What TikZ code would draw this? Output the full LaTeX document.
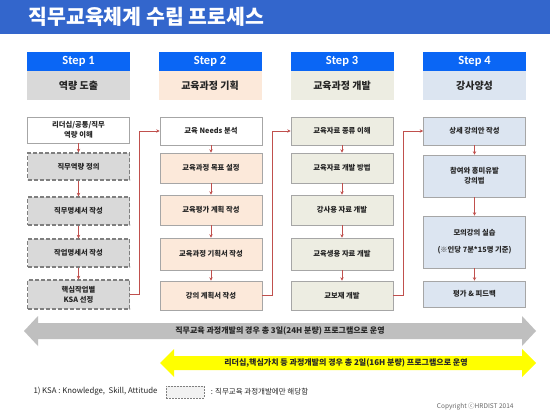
\documentclass[tikz,border=0pt]{standalone}
\usepackage{fontspec}
\setmainfont{Noto Sans CJK KR}
\newfontfamily\stepfont{Carlito}
\usetikzlibrary{arrows.meta,positioning}
\definecolor{titleblue}{HTML}{3366CC}
\definecolor{stepblue}{HTML}{0A66F5}
\definecolor{jobgray}{HTML}{D9D9D9}
\definecolor{planpeach}{HTML}{FCE9DA}
\definecolor{devolive}{HTML}{EDEDE2}
\definecolor{tutorblue}{HTML}{DCE5F1}
\definecolor{boxline}{HTML}{A6A6A6}
\definecolor{dashline}{HTML}{7F7F7F}
\definecolor{linkred}{HTML}{C0504D}
\definecolor{textdark}{HTML}{262626}
\definecolor{bandgray}{HTML}{BFBFBF}
\definecolor{bandyellow}{HTML}{FFFF00}
\tikzset{
  steptag/.style={fill=stepblue, text=white, inner sep=0pt,
    minimum width=103pt, minimum height=19pt,
    font=\stepfont\bfseries\fontsize{12.5}{13}\selectfont},
  stepname/.style={inner sep=0pt, minimum width=103pt, minimum height=29pt,
    text=textdark, font=\bfseries\fontsize{10}{12}\selectfont},
  taskbox/.style={draw=boxline, line width=0.6pt, inner sep=0pt,
    minimum width=102pt, align=center, text=textdark,
    font=\bfseries\fontsize{7.3}{10}\selectfont},
  jobbox/.style={taskbox, fill=jobgray, draw=dashline, line width=1.3pt,
    dash pattern=on 4pt off 2pt},
  flowarrow/.style={draw=linkred, line width=0.6pt,
    -{Stealth[length=3.5pt,width=3.5pt]}},
  bandtext/.style={text=textdark, font=\bfseries\fontsize{8}{9}\selectfont},
  notetext/.style={anchor=west, text=textdark, font=\fontsize{7.8}{8}\selectfont}
}
\begin{document}
\begin{tikzpicture}[x=1pt,y=-1pt]
    \useasboundingbox (0,0) rectangle (550,412);
    \fill[white] (0,0) rectangle (550,412);
    %% Title bar
    \fill[titleblue] (0,0) rectangle (550,34);
    \node[anchor=west, text=white, font=\bfseries\fontsize{20.5}{21}\selectfont]
        (title) at (25,17) {직무교육체계 수립 프로세스};
    %% Step headers
    \node[steptag] (s1) at (78.5,61.5) {Step 1};
    \node[steptag] (s2) at (210,61.5) {Step 2};
    \node[steptag] (s3) at (342,61.5) {Step 3};
    \node[steptag] (s4) at (474.5,61.5) {Step 4};
    \node[stepname, fill=jobgray, below=0pt of s1] (n1) {역량 도출};
    \node[stepname, fill=planpeach, below=0pt of s2] (n2) {교육과정 기획};
    \node[stepname, fill=devolive, below=0pt of s3] (n3) {교육과정 개발};
    \node[stepname, fill=tutorblue, below=0pt of s4] (n4) {강사양성};
    %% Step 1 : competency
    \node[taskbox, fill=white, minimum height=26pt] (c1a) at (78.5,130)
        {리더십/공통/직무\\역량 이해};
    \node[jobbox, minimum height=27pt] (c1b) at (78.5,166.5) {직무역량 정의};
    \node[jobbox, minimum height=28pt] (c1c) at (78.5,211) {직무명세서 작성};
    \node[jobbox, minimum height=28pt] (c1d) at (78.5,253) {작업명세서 작성};
    \node[jobbox, minimum height=29pt] (c1e) at (78.5,294.5)
        {핵심작업별\\KSA 선정};
    %% Step 2 : planning
    \node[taskbox, fill=white, minimum height=28pt] (c2a) at (211,131)
        {교육 Needs 분석};
    \node[taskbox, fill=planpeach, minimum height=30pt] (c2b) at (211,168)
        {교육과정 목표 설정};
    \node[taskbox, fill=planpeach, minimum height=30pt] (c2c) at (211,210)
        {교육평가 계획 작성};
    \node[taskbox, fill=planpeach, minimum height=32pt] (c2d) at (211,254)
        {교육과정 기획서 작성};
    \node[taskbox, fill=planpeach, minimum height=29pt] (c2e) at (211,295.5)
        {강의 계획서 작성};
    %% Step 3 : development
    \node[taskbox, fill=devolive, minimum height=28pt] (c3a) at (342,131)
        {교육자료 종류 이해};
    \node[taskbox, fill=devolive, minimum height=30pt] (c3b) at (342,168)
        {교육자료 개발 방법};
    \node[taskbox, fill=devolive, minimum height=30pt] (c3c) at (342,210)
        {강사용 자료 개발};
    \node[taskbox, fill=devolive, minimum height=32pt] (c3d) at (342,254)
        {교육생용 자료 개발};
    \node[taskbox, fill=devolive, minimum height=29pt] (c3e) at (342,295.5)
        {교보재 개발};
    %% Step 4 : instructors
    \node[taskbox, fill=tutorblue, minimum height=28pt] (c4a) at (474.5,131)
        {상세 강의안 작성};
    \node[taskbox, fill=tutorblue, minimum height=42pt] (c4b) at (474.5,176)
        {참여와 흥미유발\\강의법};
    \node[taskbox, fill=tutorblue, minimum height=52pt] (c4c) at (474.5,242)
        {모의강의 실습\\[7pt](※인당 7분*15명 기준)};
    \node[taskbox, fill=tutorblue, minimum height=26pt] (c4d) at (474.5,294)
        {평가 \& 피드백};
    %% Flow inside the columns
    \foreach \from/\to in {c1a/c1b,c1b/c1c,c1c/c1d,c1d/c1e,
                           c2a/c2b,c2b/c2c,c2c/c2d,c2d/c2e,
                           c3a/c3b,c3b/c3c,c3c/c3d,c3d/c3e,
                           c4a/c4b,c4b/c4c,c4c/c4d}
        \draw[flowarrow] (\from.south) -- (\to.north);
    %% Flow between the columns
    \draw[flowarrow] (c1e.east) -- ++(9,0) |- (c2a.west);
    \draw[flowarrow] (c2e.east) -- ++(10,0) |- (c3a.west);
    \draw[flowarrow] (c3e.east) -- ++(10,0) |- (c4a.west);
    %% Duration bands
    \fill[bandgray] (24,331) -- (38,316) -- (38,323) -- (522,323) -- (522,316)
        -- (536,331) -- (522,346) -- (522,339) -- (38,339) -- (38,346) -- cycle;
    \node[bandtext] (bandall) at (280,331)
        {직무교육 과정개발의 경우 총 3일(24H 분량) 프로그램으로 운영};
    \fill[bandyellow] (160,363) -- (174,349) -- (174,356) -- (522,356)
        -- (522,349) -- (536,363) -- (522,377) -- (522,370) -- (174,370)
        -- (174,377) -- cycle;
    \node[bandtext] (bandlead) at (346,363)
        {리더십,핵심가치 등 과정개발의 경우 총 2일(16H 분량) 프로그램으로 운영};
    %% Notes
    \node[notetext] (ksa) at (30,391) {1) KSA : Knowledge,\ \ Skill, Attitude};
    \node[draw=dashline, fill=black!5, line width=0.5pt,
        dash pattern=on 2pt off 1pt, minimum width=38pt, minimum height=12pt,
        inner sep=0pt] (legend) at (185,392) {};
    \node[notetext, right=3pt of legend, font=\fontsize{7.5}{8}\selectfont]
        (legendtext) {: 직무교육 과정개발에만 해당함};
    \node[anchor=east, text=black!60, font=\fontsize{6.5}{7}\selectfont]
        (copy) at (517,407) {Copyright ⓒHRDIST 2014};
\end{tikzpicture}
\end{document}
